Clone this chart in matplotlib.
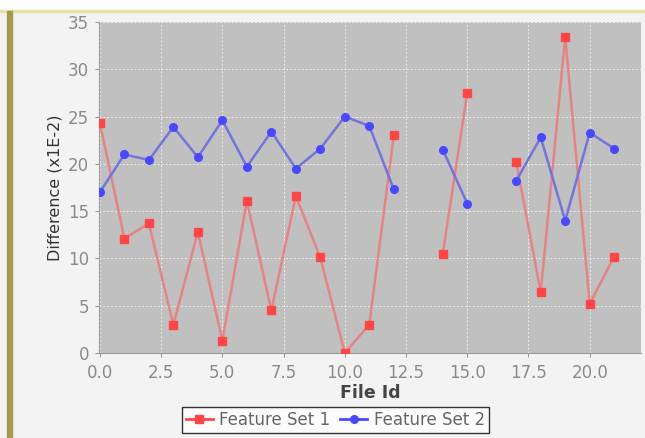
import numpy as np
import matplotlib
matplotlib.use("Agg")
import matplotlib.pyplot as plt
from matplotlib.patches import Rectangle

nan = np.nan
file_ids = list(range(22))
feature_set_1 = [24.3, 12.1, 13.7, 3.0, 12.8, 1.3, 16.1, 4.5, 16.6, 10.1, 0.0, 3.0, 23.0,
                 nan, 10.5, 27.5, nan, 20.2, 6.4, 33.4, 5.2, 10.2]
feature_set_2 = [17.0, 21.0, 20.4, 23.9, 20.7, 24.6, 19.7, 23.4, 19.5, 21.6, 25.0, 24.0, 17.3,
                 nan, 21.5, 15.8, nan, 18.2, 22.8, 14.0, 23.3, 21.6]
x_ticks = [0.0, 2.5, 5.0, 7.5, 10.0, 12.5, 15.0, 17.5, 20.0]
y_ticks = [0, 5, 10, 15, 20, 25, 30, 35]

fig = plt.figure(figsize=(6.45, 4.38), dpi=100)
fig.patch.set_facecolor('#f3f3f3')

# picture frame: olive left edge, pale yellow top line (behind the axes)
fig.patches.append(Rectangle((0.0, 0.977), 1.0, 0.023, transform=fig.transFigure,
                             color='white', zorder=-2))
fig.patches.append(Rectangle((0.0, 0.973), 1.0, 0.005, transform=fig.transFigure,
                             color='#e8e0a8', zorder=-1))
fig.patches.append(Rectangle((0.011, 0), 0.007, 0.975, transform=fig.transFigure,
                             color='#a89a4a', zorder=-1))

ax = fig.add_axes([0.153, 0.194, 0.841, 0.756])
ax.set_facecolor('#c0c0c0')

ax.plot(file_ids, feature_set_1, '-', color='#e48484', lw=1.8, zorder=2)
ax.plot(file_ids, feature_set_1, 's', color='#ff4646', ms=5.5, zorder=3)
ax.plot(file_ids, feature_set_2, '-', color='#7474dc', lw=1.8, zorder=2)
ax.plot(file_ids, feature_set_2, 'o', color='#4848ff', ms=5.5, zorder=3)

ax.set_xlim(-0.05, 22.1)
ax.set_ylim(0, 35)
ax.set_xticks(x_ticks)
ax.set_xticklabels([f'{t:.1f}' for t in x_ticks])
ax.set_yticks(y_ticks)
ax.grid(True, color='white', ls=(0, (2, 2)), lw=0.7, alpha=0.7)
ax.set_axisbelow(True)

for side in ['top', 'right']:
    ax.spines[side].set_visible(False)
ax.spines['left'].set_color('#999999')
ax.spines['bottom'].set_color('#999999')
ax.tick_params(colors='#999999', labelcolor='#8a8a8a', labelsize=12, length=3)
ax.tick_params(axis='x', pad=5)
ax.tick_params(axis='y', pad=4)

ax.set_ylabel('Difference (x1E-2)', fontsize=11.5, color='#333333', labelpad=4)
ax.set_xlabel('File Id', fontsize=12.5, fontweight='bold', color='#444444', labelpad=1)

h1, = ax.plot([], [], '-s', color='#ff4646', ms=5.5, lw=2)
h2, = ax.plot([], [], '-o', color='#4848ff', ms=5.5, lw=2)
leg = fig.legend([h1, h2], ['Feature Set 1', 'Feature Set 2'], loc='center',
                 bbox_to_anchor=(0.52, 0.041), ncol=2, frameon=True, fancybox=False,
                 handlelength=1.6, handletextpad=0.4, columnspacing=0.6,
                 borderpad=0.25, fontsize=12)
leg.get_frame().set_edgecolor('black')
leg.get_frame().set_facecolor('white')
for t in leg.get_texts():
    t.set_color('#666666')

fig.savefig('out.png', dpi=100, facecolor=fig.get_facecolor())
